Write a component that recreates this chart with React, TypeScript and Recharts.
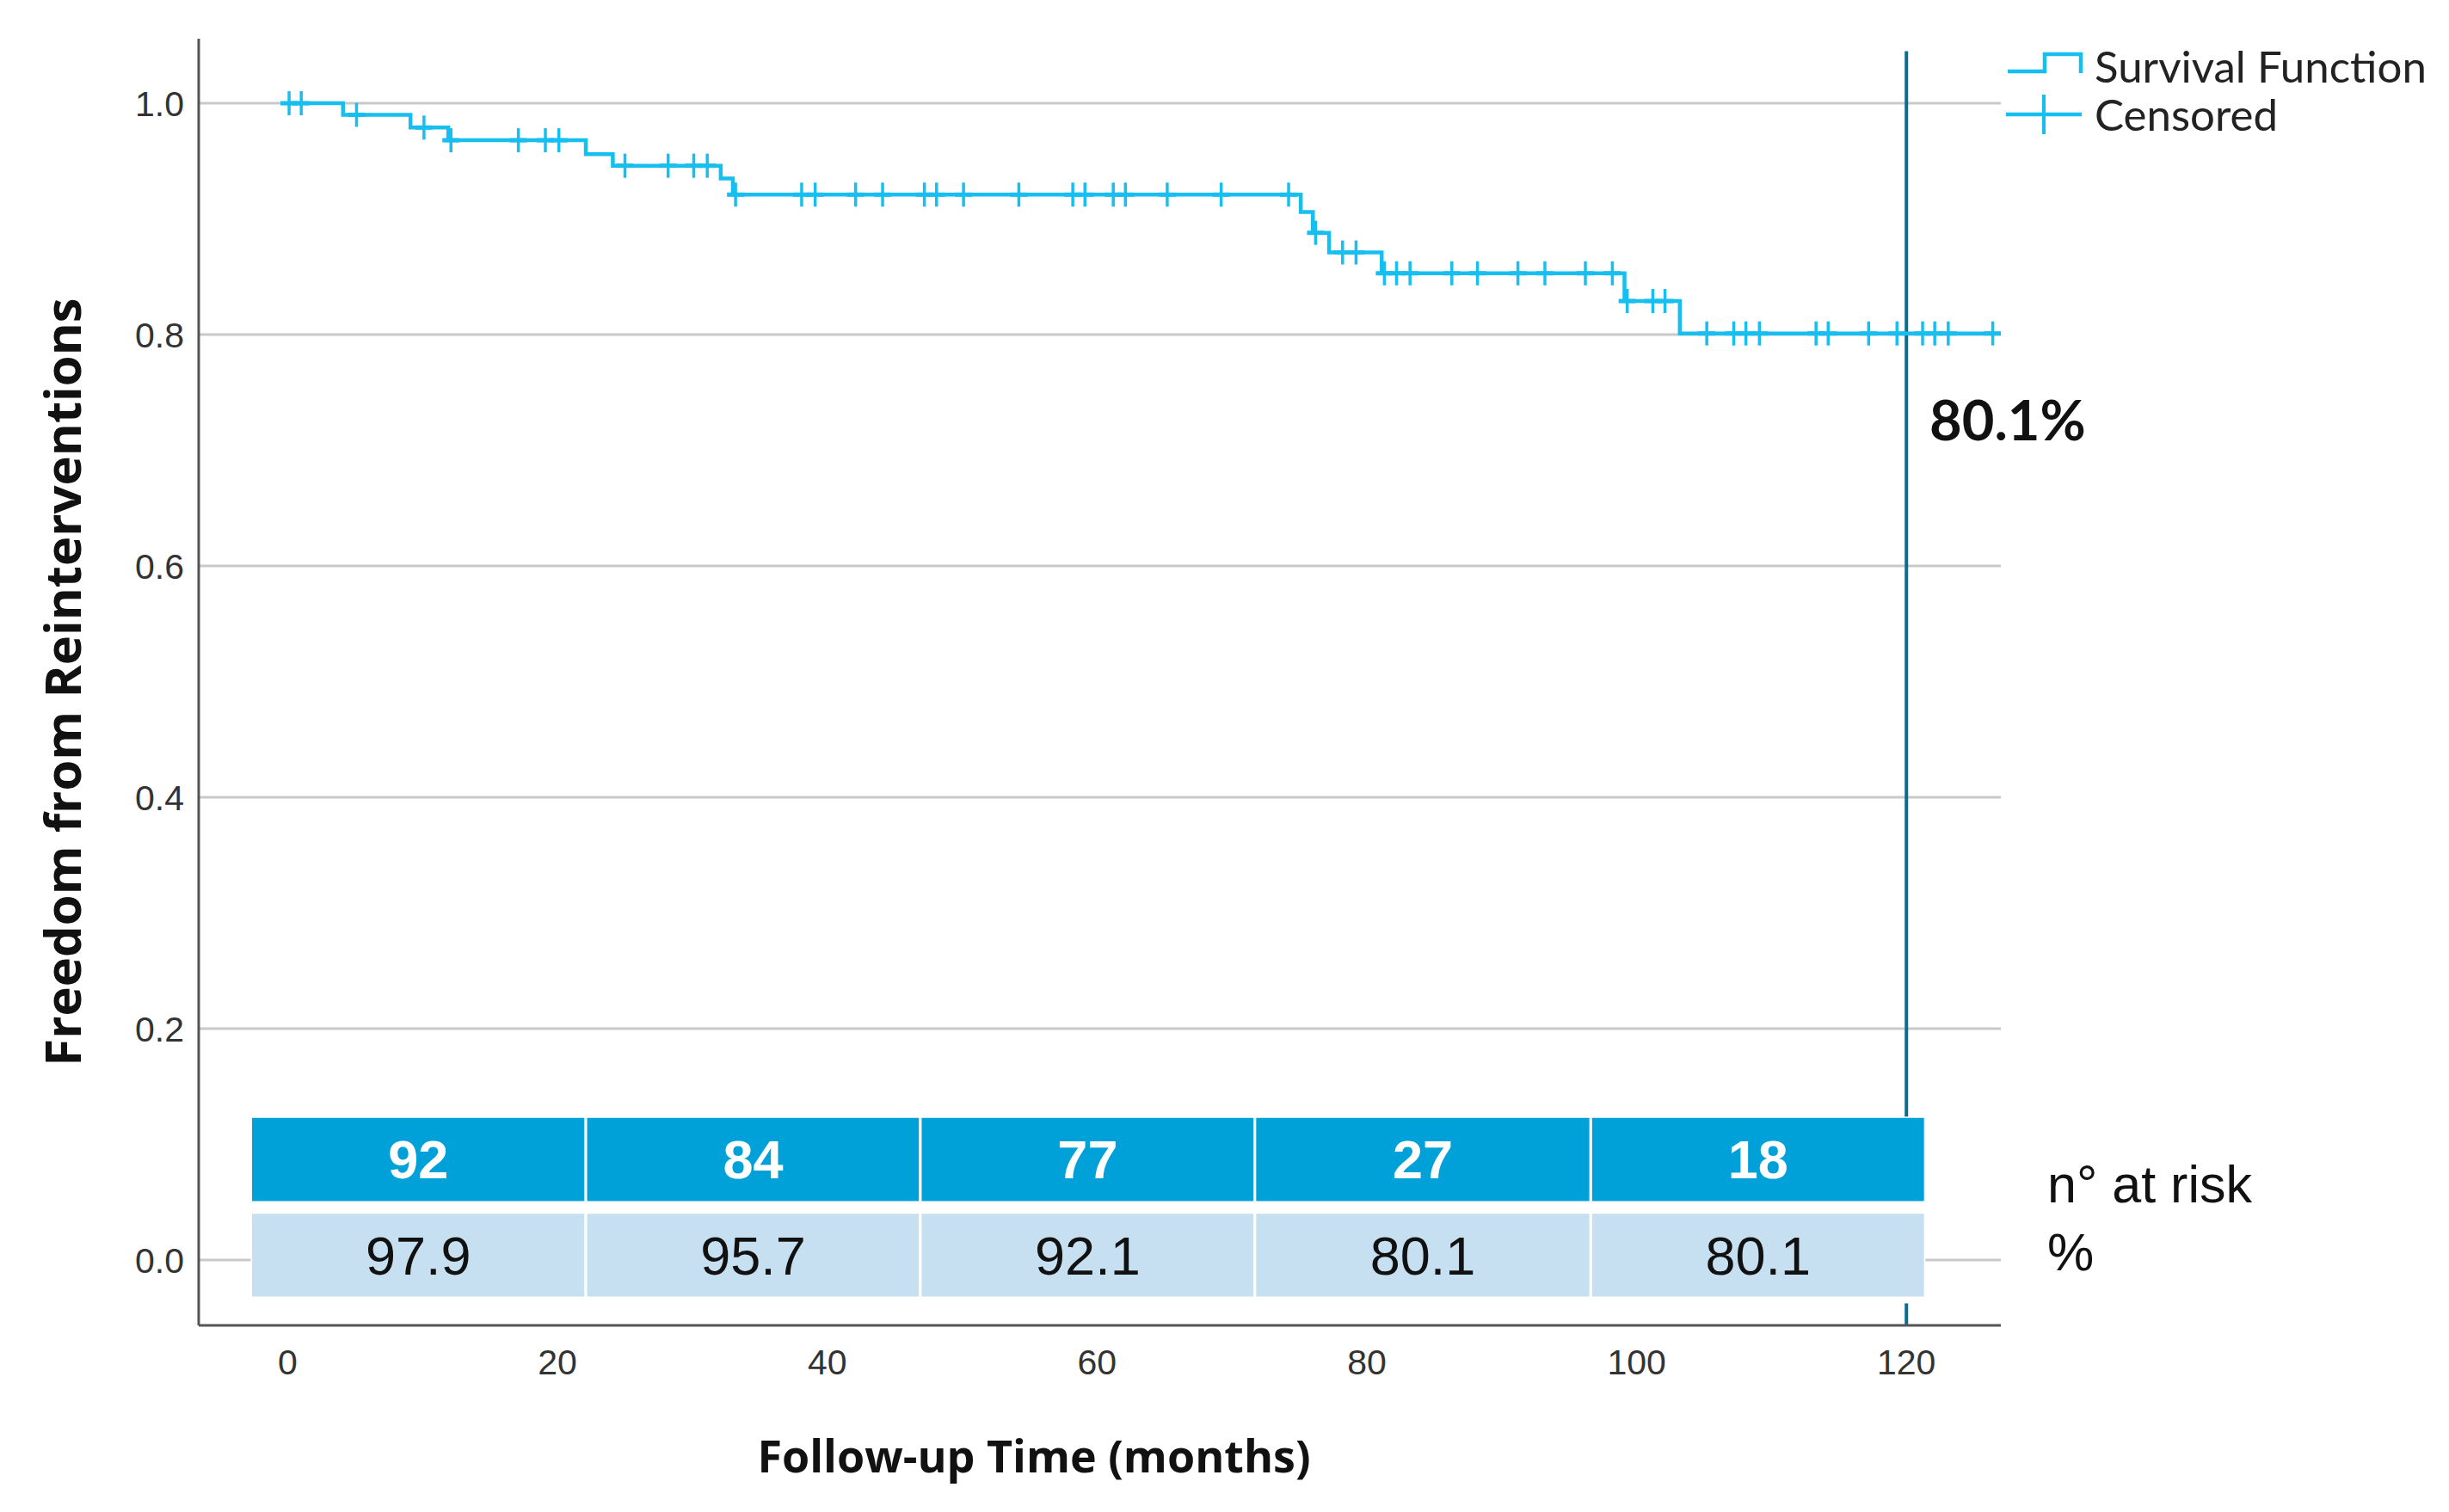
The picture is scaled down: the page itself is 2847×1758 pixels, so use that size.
import React from 'react';
import {
  ComposedChart,
  Line,
  Scatter,
  XAxis,
  YAxis,
  ReferenceLine,
  ReferenceArea,
} from 'recharts';

// ---- Data ----
// Kaplan–Meier step function: event times (months) and survival after the step
const stepTimes = [0, 4.1, 9.1, 11.9, 22.1, 24.1, 32.1, 33.0, 75.1, 76.0, 77.2, 81.1, 99.1, 103.2, 126.4];
const stepSurvival = [1.0, 0.99, 0.979, 0.968, 0.956, 0.946, 0.935, 0.921, 0.906, 0.888, 0.871, 0.853, 0.829, 0.801, 0.801];

// Censored observations (months) and the survival level they sit on
const censorTimes = [
  0.1, 1.0, 5.1, 10.1, 12.1, 17.1, 19.1, 20.1, 25.0, 28.2, 30.1, 31.1,
  33.2, 38.1, 39.1, 42.1, 44.1, 47.2, 48.1, 50.1, 54.2, 58.2, 59.1, 61.2, 62.1, 65.2, 69.2, 74.2,
  76.2, 78.2, 79.2,
  81.3, 82.2, 83.2, 86.3, 88.2, 91.2, 93.2, 96.2, 98.2,
  99.3, 101.2, 102.1,
  105.2, 107.2, 108.1, 109.1, 113.3, 114.2, 117.2, 119.3, 121.2, 122.1, 123.1, 126.4,
];
const censorSurvival = [
  1.0, 1.0, 0.99, 0.979, 0.968, 0.968, 0.968, 0.968, 0.946, 0.946, 0.946, 0.946,
  0.921, 0.921, 0.921, 0.921, 0.921, 0.921, 0.921, 0.921, 0.921, 0.921, 0.921, 0.921, 0.921, 0.921, 0.921, 0.921,
  0.888, 0.871, 0.871,
  0.853, 0.853, 0.853, 0.853, 0.853, 0.853, 0.853, 0.853, 0.853,
  0.829, 0.829, 0.829,
  0.801, 0.801, 0.801, 0.801, 0.801, 0.801, 0.801, 0.801, 0.801, 0.801, 0.801, 0.801,
];

const xTicks = [0, 20, 40, 60, 80, 100, 120];
const yTicks = [0, 0.2, 0.4, 0.6, 0.8, 1.0];

const riskCounts = ['92', '84', '77', '27', '18'];
const riskPercents = ['97.9', '95.7', '92.1', '80.1', '80.1'];

const markerMonth = 120;
const markerLabel = '80.1%';

// ---- Derived tables for the library ----
const curveData = stepTimes.map((t, i) => ({ t, s: stepSurvival[i] }));
const censorData = censorTimes.map((t, i) => ({ t, s: censorSurvival[i] }));

const CYAN = '#17BEF0';
const GRID = '#C9C9C9';
const SANS = '"Liberation Sans", Arial, sans-serif';
const BOLD = '"Open Sans", sans-serif';

const CensorMark = (props: any) => {
  const { cx, cy } = props;
  if (cx == null || cy == null) return null;
  return (
    <g>
      <line x1={cx} x2={cx} y1={cy - 14} y2={cy + 14} stroke={CYAN} strokeWidth={3.5} />
      <line x1={cx - 10} x2={cx + 10} y1={cy} y2={cy} stroke={CYAN} strokeWidth={5} />
    </g>
  );
};

export default function App() {
  const W = 2847;
  const H = 1758;
  const xDomain = [-6.6, 127];
  const yDomain = [-0.0565, 1.0558];
  // column boundaries of the at-risk table (in months, on the chart's x scale)
  const colEdges = [-2.74, 22.1, 46.9, 71.7, 96.6, 121.4];
  const row1 = [0.0498, 0.124];
  const row2 = [-0.0327, 0.041];

  const abs = (left: number, top: number, extra: any = {}) => ({
    position: 'absolute' as const,
    left,
    top,
    whiteSpace: 'nowrap' as const,
    lineHeight: 1,
    color: '#111',
    ...extra,
  });

  return (
    <div style={{ position: 'absolute', left: 0, top: 0, width: W, height: H, background: '#fff' }}>
      <ComposedChart
        width={W}
        height={H}
        margin={{ top: 45, right: 521, bottom: 97, left: 0 }}
      >
        <XAxis
          type="number"
          dataKey="t"
          domain={xDomain}
          ticks={xTicks}
          allowDataOverflow
          height={120}
          tickLine={false}
          tickMargin={22}
          axisLine={{ stroke: '#555', strokeWidth: 3 }}
          tick={{ fill: '#333', fontSize: 41, fontFamily: SANS }}
        />
        <YAxis
          type="number"
          dataKey="s"
          domain={yDomain}
          ticks={yTicks}
          allowDataOverflow
          width={231}
          tickLine={false}
          tickMargin={11}
          tickFormatter={(v: number) => v.toFixed(1)}
          axisLine={{ stroke: '#555', strokeWidth: 3 }}
          tick={{ fill: '#333', fontSize: 41, fontFamily: SANS }}
        />

        {/* horizontal grid lines */}
        {yTicks.filter((v) => v > 0).map((v) => (
          <ReferenceLine key={'g' + v} y={v} stroke={GRID} strokeWidth={3} />
        ))}
        {/* 0.0 grid line, visible only beside the table */}
        <ReferenceLine segment={[{ x: xDomain[0], y: 0 }, { x: colEdges[0], y: 0 }]} stroke={GRID} strokeWidth={3} />
        <ReferenceLine segment={[{ x: colEdges[5], y: 0 }, { x: xDomain[1], y: 0 }]} stroke={GRID} strokeWidth={3} />

        <ReferenceLine
          segment={[{ x: markerMonth, y: 1.045 }, { x: markerMonth, y: 0.124 }]}
          stroke="#0E6B8F"
          strokeWidth={4}
        />
        <ReferenceLine
          segment={[{ x: markerMonth, y: -0.0375 }, { x: markerMonth, y: yDomain[0] }]}
          stroke="#0E6B8F"
          strokeWidth={4}
        />

        {riskCounts.map((c, i) => (
          <ReferenceArea
            key={'c' + i}
            x1={colEdges[i]}
            x2={colEdges[i + 1]}
            y1={row1[0]}
            y2={row1[1]}
            fill="#00A1D9"
            fillOpacity={1}
            stroke="#ffffff"
            strokeWidth={3}
            label={{ value: c, position: 'center', fill: '#ffffff', fontSize: 63, fontWeight: 700, fontFamily: SANS }}
          />
        ))}
        {riskPercents.map((p, i) => (
          <ReferenceArea
            key={'p' + i}
            x1={colEdges[i]}
            x2={colEdges[i + 1]}
            y1={row2[0]}
            y2={row2[1]}
            fill="#C6E0F1"
            fillOpacity={1}
            stroke="#ffffff"
            strokeWidth={3}
            label={{ value: p, position: 'center', fill: '#111', fontSize: 63, fontFamily: SANS }}
          />
        ))}

        <Line
          data={curveData}
          dataKey="s"
          type="stepAfter"
          stroke={CYAN}
          strokeWidth={4.5}
          dot={false}
          activeDot={false}
          isAnimationActive={false}
        />
        <Scatter
          data={censorData}
          dataKey="s"
          shape={CensorMark}
          isAnimationActive={false}
        />
      </ComposedChart>

      {/* Axis titles */}
      <div style={abs(72, 793, { transform: 'translate(-50%, -50%) rotate(-90deg)', fontFamily: BOLD, fontWeight: 700, fontSize: 58 })}>
        Freedom from Reinterventions
      </div>
      <div style={abs(1202, 1692, { transform: 'translate(-50%, -50%)', fontFamily: BOLD, fontWeight: 700, fontSize: 52 })}>
        Follow-up Time (months)
      </div>

      {/* annotations */}
      <div style={abs(2243, 487, { transform: 'translateY(-50%)', fontFamily: 'Lato, sans-serif', fontWeight: 700, fontSize: 65 })}>
        {markerLabel}
      </div>
      <div style={abs(2380, 1377, { transform: 'translateY(-50%)', fontFamily: SANS, fontSize: 61 })}>
        n° at risk
      </div>
      <div style={abs(2380, 1456, { transform: 'translateY(-50%)', fontFamily: SANS, fontSize: 61 })}>
        %
      </div>

      {/* Legend */}
      <div style={{ position: 'absolute', left: 2326, top: 49, width: 521, fontFamily: 'Lato, sans-serif', fontSize: 51, color: '#222', lineHeight: '56px' }}>
        <div style={{ display: 'flex', alignItems: 'center', height: 56 }}>
          <svg width={100} height={56} style={{ flex: 'none' }}>
            <polyline points="8,34 51,34 51,14 93,14 93,36" fill="none" stroke={CYAN} strokeWidth={4.5} />
          </svg>
          <span style={{ marginLeft: 9, whiteSpace: 'nowrap' }}>Survival Function</span>
        </div>
        <div style={{ display: 'flex', alignItems: 'center', height: 56 }}>
          <svg width={100} height={56} style={{ flex: 'none' }}>
            <line x1={6} x2={94} y1={28} y2={28} stroke={CYAN} strokeWidth={4.5} />
            <line x1={50} x2={50} y1={5} y2={51} stroke={CYAN} strokeWidth={4} />
          </svg>
          <span style={{ marginLeft: 9, whiteSpace: 'nowrap' }}>Censored</span>
        </div>
      </div>
    </div>
  );
}
